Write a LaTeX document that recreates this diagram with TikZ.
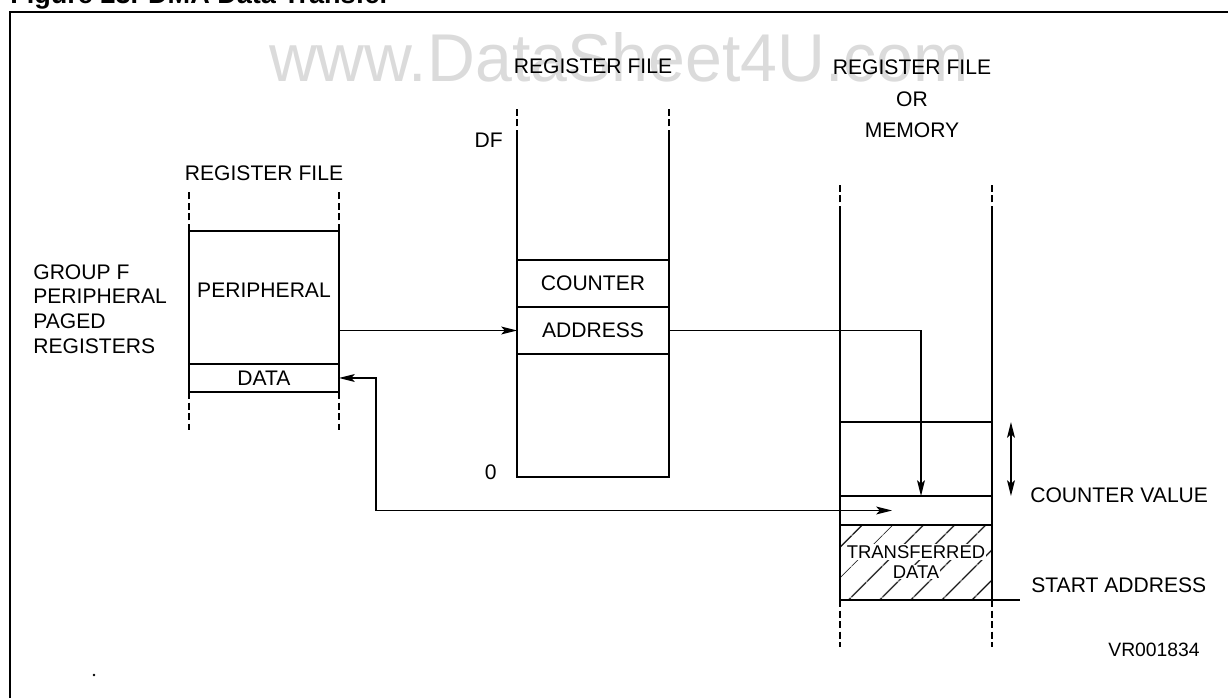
\documentclass[tikz,border=0pt]{standalone}
\usepackage{fontspec}
\setmainfont{Liberation Sans}
\usetikzlibrary{arrows.meta,positioning,patterns.meta}

\newcommand{\lbl}{\fontsize{12}{14}\selectfont}

\begin{document}
\begin{tikzpicture}[x=0.02cm, y=-0.02cm, >={Stealth[length=9pt,width=4.5pt,inset=2pt]}, node distance=0pt, font=\lbl]
  \tikzstyle{cell}=[draw, rectangle, line width=1.1pt, inner sep=0pt, outer sep=0pt, minimum width=3.04cm]
  \tikzstyle{rail}=[line width=1.1pt]
  \tikzstyle{railend}=[line width=1.1pt, dash pattern=on 4pt off 2pt]
  \tikzstyle{link}=[line width=0.8pt]
  \tikzstyle{tag}=[inner sep=0pt]

  \useasboundingbox (0,0) rectangle (1228,698);

  % watermark, heading and frame
  \node[tag, anchor=base, text=black!14] (wm) at (619,81) {\resizebox{14cm}{0.98cm}{www.DataSheet4U.com}};
  \node[tag, anchor=base west, font=\fontsize{15.4}{17}\selectfont\bfseries] (title) at (10,3) {Figure 23. DMA Data Transfer};
  \draw[line width=1.4pt] (10,698) -- (10,12) -- (1228,12);
  \fill (94,675) circle (0.8pt);

  % peripheral register file
  \node[cell, minimum width=3cm, minimum height=2.66cm] (periph) at (264,297.5) {};
  \node (periphtxt) at (264,290) {PERIPHERAL};
  \node[cell, minimum width=3cm, minimum height=0.56cm, below=of periph] (data) {DATA};
  \node (lrf) at (264,173) {REGISTER FILE};
  \node[tag, anchor=west, align=left] (group) at (33,309) {GROUP F\\PERIPHERAL\\PAGED\\REGISTERS};
  \draw[railend] (periph.north west) -- ++(0,-39);
  \draw[railend] (periph.north east) -- ++(0,-39);
  \draw[railend] (data.south west) -- ++(0,38);
  \draw[railend] (data.south east) -- ++(0,38);

  % DMA pointer register file
  \node[cell, minimum height=0.94cm] (counter) at (593,283.5) {COUNTER};
  \node[cell, minimum height=0.94cm, below=of counter] (address) {ADDRESS};
  \node[cell, minimum height=2.46cm, below=of address] (lower) {};
  \draw[rail] (counter.north west) -- ++(0,-123) coordinate (mtl);
  \draw[rail] (counter.north east) -- ++(0,-123) coordinate (mtr);
  \draw[railend] (mtl) -- ++(0,-29);
  \draw[railend] (mtr) -- ++(0,-29);
  \node[tag, anchor=east] (df) at (503,140) {DF};
  \node[tag, anchor=east] (zero) at (497,472) {0};
  \node (mrf) at (593,66) {REGISTER FILE};

  % memory
  \node[cell, minimum height=1.48cm] (slot) at (916,459) {};
  \node[cell, minimum height=0.58cm, below=of slot] (next) {};
  \node[cell, minimum height=1.5cm, below=of next, pattern={Lines[angle=45,distance=13pt,line width=0.9pt]}] (xfer) {};
  \node[fill=white, inner sep=0.6pt, font=\fontsize{10.5}{11.5}\selectfont] (xfer1) at (916,552) {TRANSFERRED};
  \node[fill=white, inner sep=0.6pt, font=\fontsize{10.5}{11.5}\selectfont] (xfer2) at (916,572) {DATA};
  \draw[rail] (slot.north west) -- ++(0,-209) coordinate (rtl);
  \draw[rail] (slot.north east) -- ++(0,-209) coordinate (rtr);
  \draw[railend] (rtl) -- ++(0,-30);
  \draw[railend] (rtr) -- ++(0,-30);
  \draw[railend] (xfer.south west) -- ++(0,47);
  \draw[railend] (xfer.south east) -- ++(0,47);
  \draw[link] (xfer.south east) -- ++(28,0);
  \node[align=center, font=\fontsize{12}{18}\selectfont] (rrf) at (912,99) {REGISTER FILE\\OR\\MEMORY};
  \draw[link, <->] ([xshift=0.38cm]slot.north east) -- ([xshift=0.38cm]slot.south east);
  \node[tag, anchor=west] (cval) at (1030,495) {COUNTER VALUE};
  \node[tag, anchor=west] (saddr) at (1031,585) {START ADDRESS};
  \node[tag, anchor=west, font=\fontsize{11}{13}\selectfont] (vr) at (1108,650) {VR001834};

  % transfers
  \draw[link, ->] (periph.east |- address.west) -- (address.west);
  \draw[link, ->] (address.east) -| ([xshift=0.1cm]slot.south);
  \draw[link, <->] (data.east) -- ++(37,0) |- ([xshift=1.04cm]next.west);
\end{tikzpicture}
\end{document}
